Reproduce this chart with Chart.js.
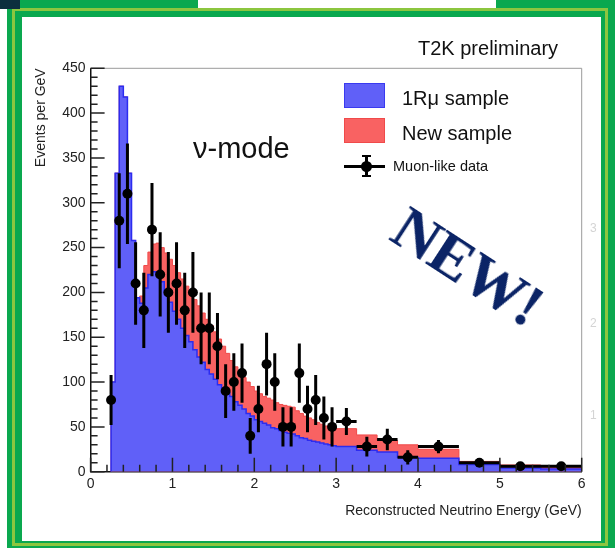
<!DOCTYPE html>
<html>
<head>
<meta charset="utf-8">
<script src="https://cdn.jsdelivr.net/npm/chart.js@4.4.1/dist/chart.umd.min.js"></script>
<style>
  body { margin: 0; width: 615px; height: 548px; position: relative; overflow: hidden; background: #fff;
         font-family: "Liberation Sans", Arial, sans-serif; }
  .abs { position: absolute; }
  #outer { left: 7px; top: 0; width: 608px; height: 548px; background: #0aa84f; }
  #stripe { left: 12px; top: 8px; width: 596px; height: 538px; border: 3px solid #8cc63f; box-sizing: border-box; }
  #inner { left: 22px; top: 17px; width: 579px; height: 524px; background: #fff; }
  #navy { left: 0; top: 0; width: 20px; height: 9px; background: #0c2f3e; }
  #gap { left: 198px; top: 0; width: 298px; height: 8px; background: #fff; }
  #c { position: absolute; left: 0; top: 0; }
  .txt { position: absolute; line-height: 1; white-space: nowrap; color: #111; }
  .box { position: absolute; width: 41px; height: 25px; box-sizing: border-box; }
  .faint { position: absolute; color: #d4d4d4; font-size: 12px; line-height: 1; }
  #newtag { position: absolute; left: 468px; top: 266px; transform: translate(-50%, -50%) rotate(33deg);
            font-family: "Liberation Serif", "DejaVu Serif", serif; font-weight: bold; font-size: 62px;
            color: #0b2466; line-height: 1; white-space: nowrap; letter-spacing: -1px; }
</style>
</head>
<body>
<div id="outer" class="abs"></div>
<div id="stripe" class="abs"></div>
<div id="inner" class="abs"></div>
<div id="navy" class="abs"></div>
<div id="gap" class="abs"></div>

<canvas id="c" width="615" height="548"></canvas>

<div class="txt" style="left:418px;top:38px;font-size:20px;">T2K preliminary</div>
<div class="txt" style="left:193px;top:134px;font-size:29px;">ν-mode</div>

<div class="box" style="left:344px;top:83px;background:#6060f8;border:1px solid #3a3af0;"></div>
<div class="txt" style="left:402px;top:88px;font-size:20px;">1Rμ sample</div>
<div class="box" style="left:344px;top:118px;background:#f96262;border:1px solid #f04a4a;"></div>
<div class="txt" style="left:402px;top:123px;font-size:20px;">New sample</div>
<div class="abs" style="left:344px;top:165px;width:41px;height:3px;background:#000;"></div>
<div class="abs" style="left:365px;top:155px;width:3px;height:22px;background:#000;"></div>
<div class="abs" style="left:362px;top:155px;width:9px;height:2px;background:#000;"></div>
<div class="abs" style="left:362px;top:175px;width:9px;height:2px;background:#000;"></div>
<div class="abs" style="left:361px;top:161px;width:11px;height:11px;border-radius:50%;background:#000;"></div>
<div class="txt" style="left:393px;top:159px;font-size:14.5px;">Muon-like data</div>

<div class="faint" style="left:590px;top:222px;">3</div>
<div class="faint" style="left:590px;top:317px;">2</div>
<div class="faint" style="left:590px;top:409px;">1</div>

<div id="newtag">NEW!</div>

<script>
// histogram bin edges (GeV)
const binEdges = [0.25, 0.30, 0.35, 0.40, 0.45, 0.50, 0.55, 0.60, 0.65, 0.70, 0.75, 0.80,
  0.85, 0.90, 0.95, 1.00, 1.05, 1.10, 1.15, 1.20, 1.25, 1.30, 1.35, 1.40, 1.45, 1.50,
  1.55, 1.60, 1.65, 1.70, 1.75, 1.80, 1.85, 1.90, 1.95, 2.00, 2.05, 2.10, 2.15, 2.20,
  2.25, 2.30, 2.35, 2.40, 2.45, 2.50, 2.55, 2.60, 2.65, 2.70, 2.75, 2.80, 2.85, 2.90,
  2.95, 3.00, 3.25, 3.50, 3.75, 4.00, 4.50, 5.00, 5.50, 6.00];

// 1Rmu sample, events per GeV in each bin
const oneRmu = [100, 333, 430, 418, 333, 258, 194, 188, 205, 220, 223, 219,
  212, 201, 189, 179, 170, 160, 152, 145, 136, 128, 122, 114, 109, 103,
  97, 93, 88, 84, 78, 74, 70, 65, 62, 58, 56, 54, 52, 49,
  48, 46, 44, 43, 42, 40, 38, 37, 35, 34, 33, 32, 31, 30,
  29, 28, 24, 22, 16, 15, 8, 4, 3];

// top of the stack (1Rmu + new sample)
const stackTop = [100, 333, 430, 418, 333, 258, 194, 196, 230, 245, 254, 255,
  250, 244, 237, 230, 222, 215, 207, 200, 192, 185, 177, 170, 163, 156,
  148, 140, 132, 124, 117, 111, 105, 100, 95, 90, 87, 84, 82, 80,
  77, 75, 74, 73, 72, 68, 65, 62, 60, 58, 55, 53, 51, 50,
  49, 48, 41, 35, 30, 25, 11.5, 7.5, 6];

// muon-like data
const dataX = [0.25, 0.35, 0.45, 0.55, 0.65, 0.75, 0.85, 0.95, 1.05, 1.15, 1.25, 1.35,
  1.45, 1.55, 1.65, 1.75, 1.85, 1.95, 2.05, 2.15, 2.25, 2.35, 2.45, 2.55,
  2.65, 2.75, 2.85, 2.95, 3.125, 3.375, 3.625, 3.875, 4.25, 4.75, 5.25, 5.75];
const dataY = [80, 280, 310, 210, 180, 270, 220, 200, 210, 180, 200, 160,
  160, 140, 90, 100, 110, 40, 70, 120, 100, 50, 50, 110,
  70, 80, 60, 50, 56, 28, 36, 16, 28, 10, 6, 6];
const dataErr = [28, 53, 56, 46, 42, 52, 47, 45, 46, 42, 45, 40,
  40, 37, 30, 32, 33, 20, 26, 35, 32, 22, 22, 33,
  26, 28, 24, 22, 15, 11, 12, 8, 7.5, 4.5, 3.5, 3.5];
const dataXErr = [0.05, 0.05, 0.05, 0.05, 0.05, 0.05, 0.05, 0.05, 0.05, 0.05, 0.05, 0.05,
  0.05, 0.05, 0.05, 0.05, 0.05, 0.05, 0.05, 0.05, 0.05, 0.05, 0.05, 0.05,
  0.05, 0.05, 0.05, 0.05, 0.125, 0.125, 0.125, 0.125, 0.25, 0.25, 0.25, 0.25];

const xTicks = [0, 1, 2, 3, 4, 5, 6];
const yTicks = [0, 50, 100, 150, 200, 250, 300, 350, 400, 450];

// step outline: left edge of each bin, closed down to zero at both ends
function histPoints(vals) {
  const last = binEdges[binEdges.length - 1];
  const pts = [{ x: binEdges[0], y: 0 }];
  vals.forEach((v, i) => pts.push({ x: binEdges[i], y: v }));
  pts.push({ x: last, y: vals[vals.length - 1] });
  pts.push({ x: last, y: 0 });
  return pts;
}

// error bars, drawn just after the blue histogram so the markers sit on top
const errorBars = {
  id: 'errorBars',
  afterDatasetDraw(chart, args) {
    if (args.index !== 1) return;
    const { ctx, scales: { x, y } } = chart;
    ctx.save();
    ctx.strokeStyle = '#000';
    ctx.lineWidth = 3;
    ctx.beginPath();
    dataX.forEach((cx, i) => {
      const px = x.getPixelForValue(cx);
      const py = y.getPixelForValue(dataY[i]);
      ctx.moveTo(px, y.getPixelForValue(dataY[i] - dataErr[i]));
      ctx.lineTo(px, y.getPixelForValue(dataY[i] + dataErr[i]));
      ctx.moveTo(x.getPixelForValue(cx - dataXErr[i]), py);
      ctx.lineTo(x.getPixelForValue(cx + dataXErr[i]), py);
    });
    ctx.stroke();
    ctx.restore();
  }
};

// ROOT style frame: inward ticks, grey top/right lines
const rootFrame = {
  id: 'rootFrame',
  afterDraw(chart) {
    const { ctx, chartArea: a, scales: { x, y } } = chart;
    ctx.save();
    ctx.strokeStyle = '#9a9a9a';
    ctx.lineWidth = 1;
    ctx.beginPath();
    ctx.moveTo(a.left, a.top);
    ctx.lineTo(a.right, a.top);
    ctx.lineTo(a.right, a.bottom);
    ctx.stroke();

    ctx.strokeStyle = '#222';
    ctx.lineWidth = 1.5;
    ctx.beginPath();
    for (let k = 0; k <= 45; k++) {
      const py = y.getPixelForValue(k * 10);
      ctx.moveTo(a.left, py);
      ctx.lineTo(a.left + (k % 5 === 0 ? 14 : 7), py);
    }
    for (let k = 0; k <= 30; k++) {
      const px = x.getPixelForValue(k * 0.2);
      ctx.moveTo(px, a.bottom);
      ctx.lineTo(px, a.bottom - (k % 5 === 0 ? 14 : 7));
    }
    ctx.stroke();
    ctx.restore();
  }
};

const tickFont = { family: '"Liberation Sans", Arial, sans-serif', size: 14 };

new Chart(document.getElementById('c'), {
  type: 'line',
  data: {
    datasets: [
      {
        label: 'Muon-like data',
        data: dataX.map((v, i) => ({ x: v, y: dataY[i] })),
        showLine: false,
        pointRadius: 5,
        pointBackgroundColor: '#000',
        pointBorderWidth: 0
      },
      {
        label: '1Rμ sample',
        data: histPoints(oneRmu),
        stepped: 'before',
        fill: 'origin',
        backgroundColor: '#6060f8',
        borderColor: '#2c2cf0',
        borderWidth: 1.5,
        pointRadius: 0
      },
      {
        label: 'New sample',
        data: histPoints(stackTop),
        stepped: 'before',
        fill: 'origin',
        backgroundColor: '#f96262',
        borderColor: '#f04a4a',
        borderWidth: 1,
        pointRadius: 0
      }
    ]
  },
  options: {
    responsive: false,
    animation: false,
    layout: { padding: { left: 30.6, right: 33.3, top: 68.3, bottom: 16.3 } },
    plugins: { legend: { display: false }, tooltip: { enabled: false } },
    scales: {
      x: {
        type: 'linear',
        min: 0,
        max: 6,
        afterFit: s => { s.height = 60; },
        afterBuildTicks: s => { s.ticks = xTicks.map(v => ({ value: v })); },
        grid: { display: false, drawTicks: false },
        border: { display: true, color: '#111', width: 1.5 },
        ticks: { font: tickFont, color: '#222', padding: 4, maxRotation: 0 },
        title: {
          display: true, text: 'Reconstructed Neutrino Energy (GeV)', align: 'end',
          color: '#222', font: tickFont, padding: { top: 0, bottom: 12 }
        }
      },
      y: {
        min: 0,
        max: 450,
        afterFit: s => { s.width = 60; },
        afterBuildTicks: s => { s.ticks = yTicks.map(v => ({ value: v })); },
        grid: { display: false, drawTicks: false },
        border: { display: true, color: '#111', width: 1.5 },
        ticks: { font: tickFont, color: '#222', padding: 5 },
        title: {
          display: true, text: 'Events per GeV', align: 'end',
          color: '#222', font: tickFont, padding: { top: 2, bottom: 0 }
        }
      }
    }
  },
  plugins: [errorBars, rootFrame]
});
</script>
</body>
</html>
